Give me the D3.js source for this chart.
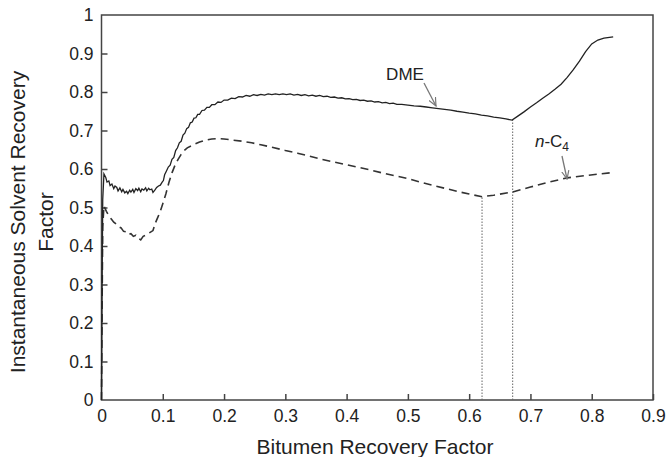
<!DOCTYPE html>
<html>
<head>
<meta charset="utf-8">
<script src="https://cdn.jsdelivr.net/npm/d3@7/dist/d3.min.js"></script>
<style>
  body { margin: 0; background: #fff; }
  svg { display: block; font-family: "Liberation Sans", Arial, sans-serif; }
</style>
</head>
<body>
<div id="chart"></div>
<script>
// values
let xTicks = [0, 0.1, 0.2, 0.3, 0.4, 0.5, 0.6, 0.7, 0.8, 0.9];
let yTicks = [0, 0.1, 0.2, 0.3, 0.4, 0.5, 0.6, 0.7, 0.8, 0.9, 1];

let dmePoints = [
	[0, 0], [0.001, 0.3], [0.002, 0.52], [0.004, 0.587], [0.007, 0.578], [0.009, 0.566],
	[0.012, 0.569], [0.014, 0.557], [0.017, 0.561], [0.020, 0.549], [0.022, 0.556], [0.025, 0.552],
	[0.027, 0.543], [0.030, 0.551], [0.033, 0.541], [0.035, 0.547], [0.038, 0.538], [0.041, 0.542],
	[0.043, 0.536], [0.046, 0.545], [0.048, 0.540], [0.051, 0.547], [0.053, 0.539], [0.056, 0.549],
	[0.059, 0.544], [0.061, 0.550], [0.064, 0.541], [0.066, 0.548], [0.069, 0.545], [0.072, 0.551],
	[0.074, 0.543], [0.077, 0.550], [0.079, 0.546], [0.082, 0.548], [0.084, 0.539], [0.087, 0.545],
	[0.090, 0.552], [0.093, 0.556], [0.096, 0.558], [0.099, 0.566], [0.101, 0.570],
	[0.103, 0.585], [0.106, 0.595], [0.109, 0.605], [0.112, 0.61], [0.115, 0.625], [0.118, 0.63],
	[0.121, 0.648], [0.124, 0.655], [0.127, 0.668], [0.130, 0.672], [0.133, 0.688], [0.136, 0.693],
	[0.139, 0.705], [0.142, 0.708], [0.145, 0.72], [0.148, 0.722], [0.151, 0.732], [0.154, 0.733],
	[0.157, 0.742], [0.160, 0.742], [0.164, 0.752], [0.168, 0.753], [0.172, 0.76], [0.176, 0.76],
	[0.180, 0.767], [0.185, 0.767], [0.190, 0.774], [0.195, 0.773], [0.200, 0.779], [0.206, 0.779],
	[0.212, 0.784], [0.218, 0.783], [0.224, 0.788], [0.230, 0.787], [0.236, 0.791], [0.242, 0.789],
	[0.248, 0.793], [0.254, 0.791], [0.260, 0.794], [0.266, 0.792], [0.272, 0.795], [0.278, 0.793],
	[0.284, 0.795], [0.290, 0.793], [0.296, 0.795], [0.302, 0.793], [0.308, 0.795], [0.314, 0.792],
	[0.320, 0.794], [0.326, 0.791], [0.332, 0.793], [0.338, 0.790], [0.344, 0.792], [0.350, 0.789],
	[0.356, 0.791], [0.362, 0.788], [0.368, 0.789], [0.374, 0.786], [0.380, 0.787], [0.386, 0.784],
	[0.392, 0.785], [0.398, 0.782], [0.404, 0.783], [0.410, 0.780], [0.416, 0.781], [0.422, 0.778],
	[0.428, 0.779], [0.434, 0.776], [0.440, 0.777], [0.446, 0.774], [0.452, 0.775], [0.458, 0.772],
	[0.464, 0.773], [0.470, 0.770], [0.476, 0.771], [0.482, 0.768], [0.490, 0.768], [0.50, 0.766],
	[0.51, 0.764], [0.52, 0.763], [0.53, 0.761], [0.54, 0.759],
	[0.55, 0.757], [0.56, 0.755], [0.57, 0.753], [0.58, 0.750], [0.59, 0.748], [0.60, 0.745],
	[0.61, 0.743], [0.62, 0.740], [0.63, 0.738], [0.64, 0.735], [0.65, 0.733], [0.66, 0.730],
	[0.67, 0.727], [0.68, 0.738], [0.69, 0.749], [0.70, 0.761], [0.71, 0.772], [0.72, 0.784],
	[0.73, 0.795], [0.74, 0.807], [0.75, 0.820], [0.76, 0.838], [0.77, 0.858], [0.78, 0.880],
	[0.79, 0.905], [0.80, 0.925], [0.81, 0.935], [0.82, 0.940], [0.835, 0.943]
];

let nc4Points = [
	[0, 0], [0.001, 0.25], [0.002, 0.45], [0.004, 0.504], [0.008, 0.49], [0.012, 0.478],
	[0.016, 0.47], [0.020, 0.462], [0.024, 0.457], [0.028, 0.45], [0.032, 0.447], [0.036, 0.438],
	[0.040, 0.437], [0.044, 0.43], [0.048, 0.432], [0.052, 0.425], [0.056, 0.428], [0.060, 0.42],
	[0.064, 0.416], [0.068, 0.425], [0.072, 0.428], [0.076, 0.432], [0.080, 0.436], [0.084, 0.44],
	[0.088, 0.46], [0.092, 0.475], [0.096, 0.49], [0.100, 0.51], [0.105, 0.535], [0.110, 0.565],
	[0.115, 0.59], [0.120, 0.61], [0.125, 0.625], [0.130, 0.638], [0.135, 0.648], [0.140, 0.655],
	[0.150, 0.663], [0.160, 0.670], [0.170, 0.675], [0.180, 0.678], [0.190, 0.679], [0.200, 0.678],
	[0.215, 0.675], [0.230, 0.672], [0.245, 0.668], [0.26, 0.663], [0.28, 0.656], [0.30, 0.648],
	[0.32, 0.641], [0.34, 0.633], [0.36, 0.625], [0.38, 0.618], [0.40, 0.611], [0.42, 0.604],
	[0.44, 0.597], [0.46, 0.589], [0.48, 0.582], [0.50, 0.575], [0.52, 0.566], [0.54, 0.558],
	[0.56, 0.550], [0.58, 0.542], [0.60, 0.535], [0.621, 0.528], [0.64, 0.532], [0.67, 0.54],
	[0.70, 0.553], [0.73, 0.566], [0.76, 0.577], [0.79, 0.583], [0.83, 0.59]
];

// dotted drop lines at the turning points
let dropLines = [[0.621, 0.528], [0.671, 0.727]];

let width = 666, height = 457;
let margin = {top: 15, right: 13, bottom: 57, left: 101.5};

let svg = d3.select("#chart").append("svg")
	.attr("width", width)
	.attr("height", height);

let x = d3.scaleLinear().domain([0, 0.9]).range([margin.left, width - margin.right]);
let y = d3.scaleLinear().domain([0, 1]).range([height - margin.bottom, margin.top]);

let axisColor = "#444";

// frame
svg.append("rect")
	.attr("x", x(0))
	.attr("y", y(1))
	.attr("width", x(0.9) - x(0))
	.attr("height", y(0) - y(1))
	.attr("fill", "none")
	.attr("stroke", axisColor)
	.attr("stroke-width", 1.5);

// axes with inward ticks
let xAxis = svg.append("g")
	.attr("transform", `translate(0,${y(0)})`)
	.call(d3.axisBottom(x).tickValues(xTicks).tickSizeInner(-6).tickSizeOuter(0).tickPadding(10)
		.tickFormat(d3.format("")));
let yAxis = svg.append("g")
	.attr("transform", `translate(${x(0)},0)`)
	.call(d3.axisLeft(y).tickValues(yTicks).tickSizeInner(-6).tickSizeOuter(0).tickPadding(8)
		.tickFormat(d3.format("")));

[xAxis, yAxis].forEach((g) => {
	g.select(".domain").remove();
	g.selectAll(".tick line").attr("stroke", axisColor).attr("stroke-width", 1.5);
	g.selectAll(".tick text")
		.attr("fill", "#222")
		.style("font-size", "17.5px")
		.style("font-family", "'Liberation Sans', Arial, sans-serif");
});
xAxis.selectAll(".tick").filter((d) => d === 0).select("line").remove();
yAxis.selectAll(".tick").filter((d) => d === 0 || d === 1).select("line").remove();

// drop lines
svg.selectAll(".drop")
	.data(dropLines)
	.enter().append("line")
	.attr("class", "drop")
	.attr("x1", (d) => x(d[0]))
	.attr("x2", (d) => x(d[0]))
	.attr("y1", y(0))
	.attr("y2", (d) => y(d[1]))
	.attr("stroke", "#666")
	.attr("stroke-width", 1)
	.attr("stroke-dasharray", "1.5,1.5");

let line = d3.line()
	.x((d) => x(d[0]))
	.y((d) => y(d[1]));

svg.append("path")
	.datum(nc4Points)
	.attr("d", line)
	.attr("fill", "none")
	.attr("stroke", "#333")
	.attr("stroke-width", 1.6)
	.attr("stroke-dasharray", "8,5");

svg.append("path")
	.datum(dmePoints)
	.attr("d", line)
	.attr("fill", "none")
	.attr("stroke", "#222")
	.attr("stroke-width", 1.3);

// annotations
let defs = svg.append("defs");
defs.append("marker")
	.attr("id", "arrow")
	.attr("viewBox", "0 0 10 10")
	.attr("refX", 9)
	.attr("refY", 5)
	.attr("markerWidth", 7)
	.attr("markerHeight", 7)
	.attr("orient", "auto")
	.append("path")
	.attr("d", "M0,1 L9,5 L0,9")
	.attr("fill", "none")
	.attr("stroke", "#777")
	.attr("stroke-width", 1.3);

let notes = [
	{label: "DME", tx: 405, ty: 80, ax1: 424, ay1: 83, ax2: 436, ay2: 106},
	{label: "nC4", tx: 552, ty: 147, ax1: 562, ay1: 156, ax2: 567, ay2: 179}
];

notes.forEach((n) => {
	let t = svg.append("text")
		.attr("x", n.tx)
		.attr("y", n.ty)
		.attr("text-anchor", "middle")
		.attr("fill", "#222")
		.style("font-size", "17px");
	if (n.label === "DME") {
		t.text("DME");
	} else {
		t.append("tspan").attr("font-style", "italic").text("n");
		t.append("tspan").text("-C");
		t.append("tspan").attr("dy", 4).style("font-size", "12px").text("4");
	}
	svg.append("line")
		.attr("x1", n.ax1).attr("y1", n.ay1)
		.attr("x2", n.ax2).attr("y2", n.ay2)
		.attr("stroke", "#777")
		.attr("stroke-width", 1.3)
		.attr("marker-end", "url(#arrow)");
});

// axis titles
svg.append("text")
	.attr("x", 375)
	.attr("y", 454)
	.attr("text-anchor", "middle")
	.attr("fill", "#222")
	.style("font-size", "21px")
	.text("Bitumen Recovery Factor");

let yTitle = svg.append("text")
	.attr("transform", "translate(25,222) rotate(-90)")
	.attr("text-anchor", "middle")
	.attr("fill", "#222")
	.style("font-size", "21px");
yTitle.append("tspan").attr("x", 0).attr("y", 0).text("Instantaneous Solvent Recovery");
yTitle.append("tspan").attr("x", 0).attr("y", 28).text("Factor");
</script>
</body>
</html>
